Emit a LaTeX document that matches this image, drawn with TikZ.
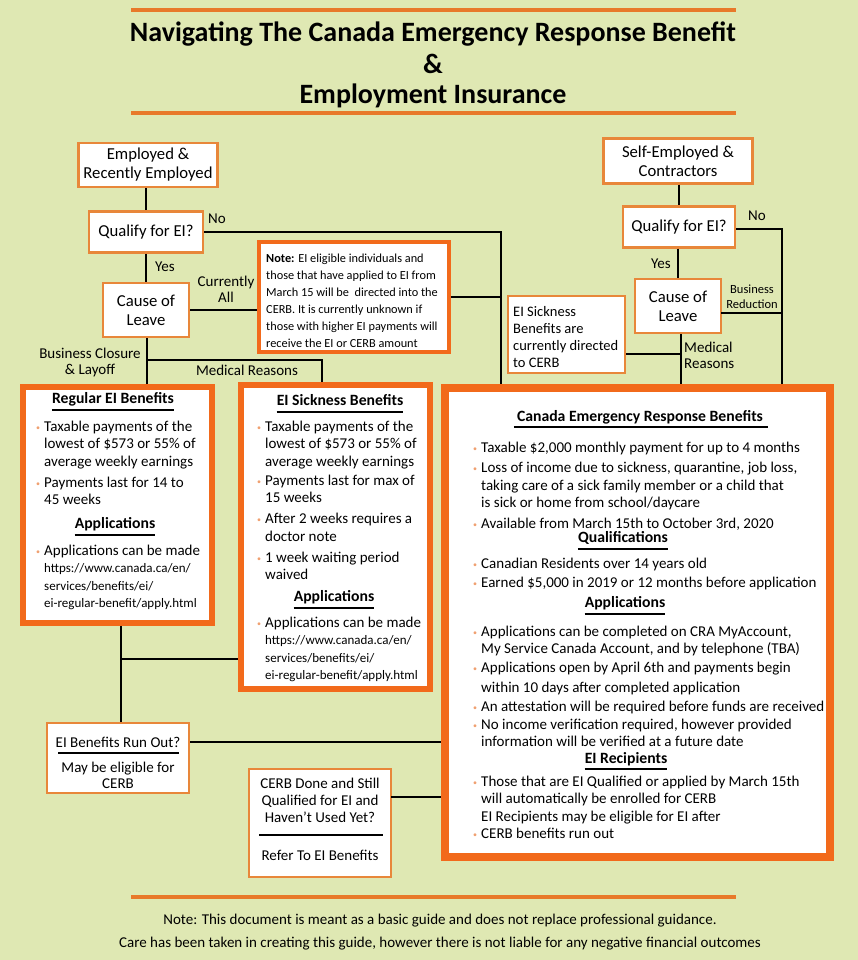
\documentclass[tikz,border=0pt]{standalone}
\usepackage{fontspec}
\setmainfont{Carlito}
\usetikzlibrary{calc}
\definecolor{bgc}{HTML}{DFE8B3}
\definecolor{thinor}{HTML}{E8873A}
\definecolor{thickor}{HTML}{F26A1B}
\definecolor{lineor}{HTML}{E8792A}
\definecolor{bulc}{HTML}{F0A070}
\newcommand\fsz[2]{\fontsize{#1}{#2}\selectfont}
\newcommand\urlf{\fsz{13}{17.5}}
\newcommand\bul{\llap{\raisebox{1pt}{\textcolor{bulc}{\fontsize{8}{8}\selectfont\textbullet}}\hspace{4pt}}}
\tikzset{
  thinbox/.style={draw=thinor, line width=2.2pt, fill=white, align=center, inner sep=0pt},
  thickbox/.style={draw=thickor, line width=5.5pt, fill=white, inner sep=0pt},
  conn/.style={line width=2.2pt, black},
  lbl/.style={font=\fsz{15}{16}, inner sep=0pt, align=center},
  body/.style={anchor=north west, align=left, inner sep=0pt, font=\fsz{15}{17.5}},
  head/.style={anchor=base, inner sep=0pt, font=\fsz{15.7}{17}\bfseries},
  uline/.style={line width=1.8pt, black},
  orline/.style={line width=4pt, lineor}
}
\begin{document}
\begin{tikzpicture}[x=1pt,y=-1pt]
\useasboundingbox[fill=bgc] (0,0) rectangle (858,960);
% title
\coordinate (tl1) at (131,10); \coordinate (tr1) at (736,10);
\draw[orline] (tl1) -- (tr1);
\coordinate (tl2) at (131,113); \coordinate (tr2) at (736,113);
\draw[orline] (tl2) -- (tr2);
\node[font=\fsz{28}{30}\bfseries, inner sep=0pt] (title1) at (433,34) {Navigating The Canada Emergency Response Benefit};
\node[font=\fsz{28}{30}\bfseries, inner sep=0pt] (title2) at (433,64) {\&};
\node[font=\fsz{28}{30}\bfseries, inner sep=0pt] (title3) at (433,96) {Employment Insurance};

% left flow
\node[thinbox, minimum width=139pt, minimum height=44pt, font=\fsz{16.7}{19}] (e1) at (148,165) {Employed \&\\Recently Employed};
\node[thinbox, minimum width=114pt, minimum height=41pt, font=\fsz{16.7}{19}] (q1) at (146,232) {Qualify for EI?};
\node[thinbox, minimum width=86pt, minimum height=54pt, font=\fsz{16.7}{19}] (c1) at (146,310) {Cause of\\Leave};
\node[draw=thickor, line width=3.5pt, fill=white, minimum width=190pt, minimum height=110pt, inner sep=0pt] (note) at (354,297) {};
\node[anchor=north west, align=left, inner sep=0pt, font=\fsz{12.3}{17}] (notet) at (266,253.5) {\textbf{Note:} EI eligible individuals and\\those that have applied to EI from\\March 15 will be\ \ directed into the\\CERB. It is currently unknown if\\those with higher EI payments will\\receive the EI or CERB amount};

% right flow
\node[thinbox, minimum width=149pt, minimum height=45pt, font=\fsz{16.7}{19}] (e2) at (678,161) {Self-Employed \&\\Contractors};
\node[thinbox, minimum width=112pt, minimum height=41pt, font=\fsz{16.7}{19}] (q2) at (679,227) {Qualify for EI?};
\node[thinbox, minimum width=86pt, minimum height=54pt, font=\fsz{16.7}{19}] (c2) at (678,306) {Cause of\\Leave};
\node[thinbox, minimum width=117pt, minimum height=77pt] (sn) at (566.5,334.5) {};
\node[anchor=north west, align=left, inner sep=0pt, font=\fsz{14.5}{17}] (snt) at (513,306) {EI Sickness\\Benefits are\\currently directed\\to CERB};

% big boxes
\node[thickbox, minimum width=189pt, minimum height=236pt] (reg) at (117.5,505) {};
\node[thickbox, minimum width=189pt, minimum height=304pt] (sick) at (335.5,537) {};
\node[thickbox, line width=7.5pt, minimum width=385pt, minimum height=469pt] (cerb) at (637.5,622.5) {};

% bottom left boxes
\node[thinbox, minimum width=142pt, minimum height=70pt] (ro) at (118,758) {};
\node[lbl, font=\fsz{15}{17}] (rot) at (118,742) {EI Benefits Run Out?};
\coordinate (rol) at (58,753); \coordinate (ror) at (179,753);
\draw[line width=1.8pt] (rol) -- (ror);
\node[lbl, font=\fsz{15}{16}] (rob) at (118,775) {May be eligible for\\CERB};
\node[thinbox, minimum width=142pt, minimum height=108pt] (cd) at (320,823) {};
\node[lbl, font=\fsz{15}{17}] (cdt) at (320,800) {CERB Done and Still\\Qualified for EI and\\Haven't Used Yet?};
\coordinate (cdl) at (259,835); \coordinate (cdr) at (383,835);
\draw[line width=1.8pt] (cdl) -- (cdr);
\node[lbl, font=\fsz{15}{17}] (cdb) at (320,855) {Refer To EI Benefits};

% connectors left
\draw[conn] (e1.south -| q1.north) -- (q1.north);
\coordinate (j1) at (501,232);
\draw[conn] (q1.east) -- (j1) -- (j1 |- cerb.north);
\draw[conn] (note.east) -- (note.east -| j1);
\draw[conn] (q1.south) -- (c1.north);
\draw[conn] (c1.east) -- (c1.east -| note.west);
\coordinate (j3) at (147,360); \coordinate (j4) at (322,360);
\draw[conn] (c1.south -| j3) -- (j3 |- reg.north);
\draw[conn] (j3) -- (j4) -- (j4 |- sick.north);
\coordinate (j5) at (121,659);
\draw[conn] (j5 |- reg.south) -- (j5 |- ro.north);
\draw[conn] (j5) -- (j5 -| sick.west);
\draw[conn] (rot.east -| ro.east) -- (rot.east -| cerb.west);
\coordinate (j6) at (391,797);
\draw[conn] (j6) -- (j6 -| cerb.west);

% connectors right
\draw[conn] (e2.south -| q2.north) -- (q2.north);
\coordinate (j2) at (782,229);
\draw[conn] (q2.east |- j2) -- (j2) -- (j2 |- cerb.north);
\draw[conn] (q2.south -| c2.north) -- (c2.north);
\coordinate (j7) at (721,313);
\draw[conn] (j7) -- (j7 -| j2);
\coordinate (j8) at (681,354);
\draw[conn] (j8 |- c2.south) -- (j8 |- cerb.north);
\draw[conn] (sn.east |- j8) -- (j8);

% labels
\node[lbl] (no1) at (217,219) {No};
\node[lbl] (yes1) at (165,267) {Yes};
\node[lbl] (curall) at (226,289) {Currently\\All};
\node[lbl] (bcl) at (90,362) {Business Closure\\\& Layoff};
\node[lbl] (medr) at (247,370) {Medical Reasons};
\node[lbl] (no2) at (757,216) {No};
\node[lbl] (yes2) at (661,264) {Yes};
\node[lbl, font=\fsz{12.5}{15}] (bred) at (752,297) {Business\\Reduction};
\node[lbl, anchor=west, align=left] (medr2) at (684,355) {Medical\\Reasons};

% Regular EI box text
\node[head] (regh) at (113,403) {Regular EI Benefits};
\draw[uline] ([yshift=-7pt]regh.base west) -- ([yshift=-7pt]regh.base east);
\node[body] (regb) at (44,420.5) {\bul Taxable payments of the\\lowest of \$573 or 55\% of\\average weekly earnings\\[3.5pt]\bul Payments last for 14 to\\45 weeks};
\node[head] (rega) at (115,528) {Applications};
\draw[uline] ([yshift=-7pt]rega.base west) -- ([yshift=-7pt]rega.base east);
\node[body] (regc) at (44,544.5) {\bul Applications can be made\\\urlf https://www.canada.ca/en/\\\urlf services/benefits/ei/\\\urlf ei-regular-benefit/apply.html};

% Sickness box text
\node[head] (sickh) at (340,405) {EI Sickness Benefits};
\draw[uline] ([yshift=-7pt]sickh.base west) -- ([yshift=-7pt]sickh.base east);
\node[body] (sickb) at (265,420.5) {\bul Taxable payments of the\\lowest of \$573 or 55\% of\\average weekly earnings\\[1.5pt]\bul Payments last for max of\\15 weeks\\[3.5pt]\bul After 2 weeks requires a\\doctor note\\[3.5pt]\bul 1 week waiting period\\waived};
\node[head] (sicka) at (334,601) {Applications};
\draw[uline] ([yshift=-7pt]sicka.base west) -- ([yshift=-7pt]sicka.base east);
\node[body] (sickc) at (265,616.5) {\bul Applications can be made\\\urlf https://www.canada.ca/en/\\\urlf services/benefits/ei/\\\urlf ei-regular-benefit/apply.html};

% CERB box text
\node[head] (cerbh) at (640,421) {Canada Emergency Response Benefits};
\draw[uline] ([yshift=-6pt,xshift=-3pt]cerbh.base west) -- ([yshift=-6pt,xshift=5pt]cerbh.base east);
\node[body] (cerb1) at (481,441.5) {\bul Taxable \$2,000 monthly payment for up to 4 months\\[3pt]\bul Loss of income due to sickness, quarantine, job loss,\\taking care of a sick family member or a child that\\is sick or home from school/daycare\\[3pt]\bul Available from March 15th to October 3rd, 2020};
\node[head] (cerbq) at (623,542) {Qualifications};
\draw[uline] ([yshift=-7pt]cerbq.base west) -- ([yshift=-7pt]cerbq.base east);
\node[body] (cerb2) at (481,557.5) {\bul Canadian Residents over 14 years old\\[1.5pt]\bul Earned \$5,000 in 2019 or 12 months before application};
\node[head] (cerba) at (625,607) {Applications};
\draw[uline] ([yshift=-7pt]cerba.base west) -- ([yshift=-7pt]cerba.base east);
\node[body] (cerb3) at (481,625.5) {\bul Applications can be completed on CRA MyAccount,\\My Service Canada Account, and by telephone (TBA)\\[1.5pt]\bul Applications open by April 6th and payments begin\\[2pt]within 10 days after completed application\\[1.5pt]\bul An attestation will be required before funds are received\\[0.5pt]\bul No income verification required, however provided\\information will be verified at a future date};
\node[head] (cerbe) at (626,763) {EI Recipients};
\draw[uline] ([yshift=-6pt]cerbe.base west) -- ([yshift=-6pt]cerbe.base east);
\node[body] (cerb4) at (481,775.5) {\bul Those that are EI Qualified or applied by March 15th\\will automatically be enrolled for CERB\\EI Recipients may be eligible for EI after\\\bul CERB benefits run out};

% footer
\coordinate (fl) at (131,897); \coordinate (fr) at (736,897);
\draw[orline] (fl) -- (fr);
\node[font=\fsz{15}{17}, inner sep=0pt] (foot1) at (440,921) {Note: This document is meant as a basic guide and does not replace professional guidance.};
\node[font=\fsz{15}{17}, inner sep=0pt] (foot2) at (440,944) {Care has been taken in creating this guide, however there is not liable for any negative financial outcomes};
\end{tikzpicture}
\end{document}
